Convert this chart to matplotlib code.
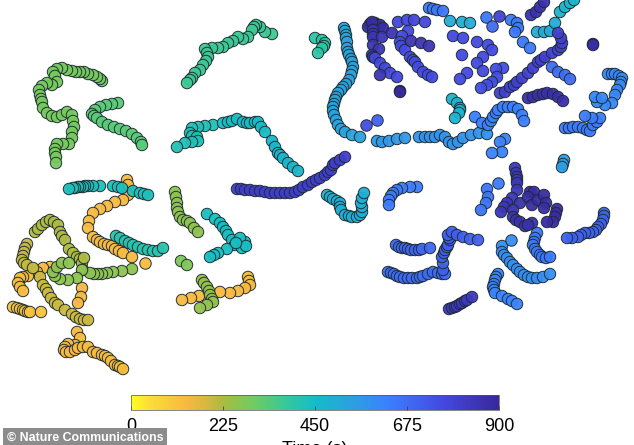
"""
Trajectories on a common plane, coloured by time, with a time colour bar.
"""

import matplotlib
matplotlib.use("Agg")
import matplotlib.pyplot as plt
from matplotlib.colors import LinearSegmentedColormap, Normalize
from matplotlib.cm import ScalarMappable

plt.rcParams["font.family"] = ["Liberation Sans", "DejaVu Sans"]

TICKS = [0, 225, 450, 675, 900]
TIME_LABEL = "Time (s)"
CREDIT = "\u00a9 Nature Communications"

CMAP_STOPS = [0.0, 0.05, 0.15, 0.2, 0.25, 0.33, 0.43, 0.5, 0.6, 0.7, 0.85, 1.0]
CMAP_COLORS = ["#ffff20", "#fcdc38", "#f8b840", "#d8b840", "#a8bc40", "#70cc60",
               "#30c8a0", "#14bcc8", "#2ca0e0", "#3a80ff", "#4448e0", "#38289a"]

# green, upper left
g1_t = 290
g1_x = [102, 100, 97, 93, 88, 84, 80, 76, 72, 67, 62, 57, 53, 55, 57, 52, 47, 42, 39, 40, 41, 42, 43, 47, 52, 57, 62, 67, 72, 73, 74, 72, 72, 69, 63, 57, 55, 55, 56, 56]
g1_y = [81, 79, 77, 75, 74, 72, 72, 72, 71, 70, 68, 69, 72, 76, 82, 85, 83, 86, 90, 95, 99, 102, 108, 113, 116, 117, 115, 112, 115, 121, 127, 132, 138, 144, 144, 144, 149, 153, 157, 163]
g2_t = 330
g2_x = [118, 112, 106, 100, 95, 92, 94, 97, 102, 108, 114, 120, 126, 132, 137, 141, 142]
g2_y = [103, 104, 105, 107, 110, 114, 116, 118, 122, 125, 127, 129, 131, 134, 138, 142, 145]
g3_t = 370
g3_x = [272, 265, 260, 256, 254, 252, 248, 243, 238, 233, 228, 223, 218, 212, 205, 207, 208, 206, 203, 200, 195, 192, 190, 187]
g3_y = [34, 32, 27, 25, 27, 30, 37, 39, 37, 41, 43, 47, 48, 48, 49, 53, 57, 61, 65, 70, 73, 78, 80, 83]
t1_t = 395
t1_x = [315, 322, 325, 324, 322, 318]
t1_y = [38, 40, 43, 46, 48, 53]
t2_t = 425
t2_x = [213, 205, 198, 192, 190, 192, 197, 198, 192, 185, 177]
t2_y = [125, 126, 127, 128, 133, 136, 137, 141, 142, 143, 147]
t3_t = 445
t3_x = [223, 228, 232, 237, 243, 247, 250, 255, 258, 261, 265]
t3_y = [123, 122, 121, 119, 122, 123, 123, 122, 122, 127, 132]
t4_t = 465
t4_x = [272, 275, 278, 280, 283, 288, 293, 298]
t4_y = [141, 147, 153, 155, 158, 163, 167, 171]

# cyan and blue, upper right
c1_t = 530
c1_x = [344, 345, 346, 346, 347, 347, 348, 349, 351, 352, 353, 352, 351, 349, 346, 343, 341, 338, 336, 335, 334, 333, 333, 334, 336, 338, 341, 345, 352, 360]
c1_y = [28, 31, 35, 38, 42, 48, 52, 55, 59, 62, 67, 71, 75, 80, 84, 87, 90, 93, 97, 100, 104, 107, 111, 115, 120, 125, 129, 132, 135, 137]
c2_t = 560
c2_x = [377, 382, 389, 397, 405]
c2_y = [141, 142, 141, 139, 138]
c3_t = 575
c3_x = [419, 425, 430, 435, 440, 445, 449, 453, 458, 463, 471, 479, 487]
c3_y = [137, 137, 137, 137, 135, 137, 142, 144, 142, 138, 135, 133, 134]
c4_t = 630
c4_x = [475, 482, 488, 491, 493, 496, 498, 503, 508, 513, 518, 522, 524]
c4_y = [117, 123, 125, 121, 117, 113, 110, 107, 107, 107, 109, 115, 121]
c5_t = 475
c5_x = [452, 457, 460, 460, 459, 455]
c5_y = [99, 103, 108, 110, 113, 118]
c6_t = 620
c6_x = [505, 500, 502, 492]
c6_y = [139, 142, 152, 153]
d1_t = 750
d1_x = [366]
d1_y = [125]
d2_t = 700
d2_x = [377]
d2_y = [120]
e1_t = 650
e1_x = [429, 433, 437, 443]
e1_y = [8, 9, 10, 11]
e2_t = 500
e2_x = [450, 462, 470]
e2_y = [21, 22, 23]
e3_t = 650
e3_x = [486]
e3_y = [17]
e4_t = 680
e4_x = [492]
e4_y = [26]
e5_t = 790
e5_x = [499]
e5_y = [16]
e6_t = 650
e6_x = [511, 517, 518, 515]
e6_y = [20, 23, 28, 32]
e7_t = 650
e7_x = [523, 530]
e7_y = [42, 48]
e8_t = 500
e8_x = [537, 544, 550, 555]
e8_y = [32, 32, 31, 23]
e9_t = 470
e9_x = [560, 565, 570, 574]
e9_y = [12, 7, 3, 0]
e10_t = 860
e10_x = [531, 536, 540, 544]
e10_y = [15, 12, 7, 2]
e11_t = 880
e11_x = [593, 593]
e11_y = [44, 45]

# dark group at the top
k1_t = 880
k1_x = [370, 375, 380, 383, 368, 372]
k1_y = [24, 23, 25, 28, 27, 22]
k2_t = 850
k2_x = [373, 373, 373, 382, 373, 379, 372, 373]
k2_y = [30, 34, 37, 37, 45, 49, 55, 57]
k3_t = 770
k3_x = [375, 380, 385, 390, 397]
k3_y = [58, 63, 68, 73, 77]
k4_t = 850
k4_x = [380, 392]
k4_y = [75, 33]
k5_t = 770
k5_x = [398, 407, 414, 425]
k5_y = [22, 20, 20, 22]
k6_t = 760
k6_x = [408, 402, 400, 401, 405, 410, 413, 415, 418, 423, 428, 432]
k6_y = [31, 36, 42, 46, 50, 57, 60, 62, 67, 72, 75, 77]
k7_t = 850
k7_x = [411, 421, 429]
k7_y = [41, 43, 46]
k8_t = 890
k8_x = [400, 400]
k8_y = [91, 92]
k9_t = 760
k9_x = [453, 463, 462, 477, 488, 492, 483, 477, 483, 467, 460]
k9_y = [36, 38, 55, 42, 45, 50, 57, 63, 71, 73, 79]
k10_t = 750
k10_x = [503, 496, 497, 492, 487, 481]
k10_y = [68, 69, 77, 82, 85, 88]
k11_t = 800
k11_x = [500, 505, 510, 514, 517, 522, 528, 533, 538, 541, 545, 552, 558, 561, 562, 561, 558]
k11_y = [93, 92, 87, 85, 82, 78, 73, 68, 62, 60, 57, 53, 50, 47, 43, 38, 33]
k12_t = 870
k12_x = [528, 533, 538, 543, 547, 553, 558, 563]
k12_y = [98, 97, 95, 94, 93, 94, 97, 101]
k13_t = 680
k13_x = [552, 558, 565, 570]
k13_y = [67, 72, 75, 79]
k14_t = 610
k14_x = [608, 612, 615, 619, 622, 621, 620, 617, 615, 612, 605, 597, 595, 602]
k14_y = [74, 74, 74, 76, 78, 82, 85, 90, 95, 103, 105, 102, 97, 98]
k15_t = 640
k15_x = [565, 569, 573, 578, 583, 587, 590, 593, 597, 600, 592, 585]
k15_y = [128, 128, 127, 127, 128, 130, 131, 125, 122, 118, 118, 116]
k16_t = 550
k16_x = [564, 563, 562]
k16_y = [160, 164, 167]

# centre and lower right
p1_t = 810
p1_x = [237, 241, 245, 250, 255, 260, 265, 270, 275, 280, 285, 290, 295, 299, 303, 308, 312, 316, 320, 325, 328, 331, 333, 335, 340, 345]
p1_y = [189, 189, 190, 190, 191, 191, 192, 193, 193, 193, 193, 193, 192, 190, 187, 185, 182, 180, 178, 175, 172, 170, 165, 163, 160, 157]
u1_t = 490
u1_x = [327, 330, 333, 337, 340, 340, 341, 345, 349, 352, 357, 360, 362, 362, 361, 362, 364]
u1_y = [195, 197, 199, 201, 203, 207, 210, 215, 216, 217, 217, 215, 212, 207, 203, 198, 193]
b1_t = 640
b1_x = [417, 410, 402, 397, 393, 391, 389, 389]
b1_y = [187, 187, 188, 190, 193, 196, 200, 205]
b2_t = 690
b2_x = [396, 399, 402, 405, 408, 411, 415, 419, 422, 430]
b2_y = [245, 247, 248, 248, 249, 250, 250, 250, 249, 248]
b3_t = 680
b3_x = [388, 391, 394, 397, 400, 404, 408, 412, 417, 420, 423, 428, 433, 438, 442, 445]
b3_y = [272, 273, 274, 276, 277, 278, 278, 278, 278, 277, 276, 274, 272, 273, 274, 274]
b4_t = 710
b4_x = [443, 443, 442, 444, 445, 447, 448, 450, 449, 448, 452, 457, 463, 470, 478]
b4_y = [270, 263, 257, 253, 250, 247, 245, 240, 238, 235, 232, 235, 237, 239, 240]
b5_t = 830
b5_x = [449, 452, 455, 457, 460, 462, 465, 467, 472]
b5_y = [309, 308, 307, 306, 304, 303, 301, 300, 297]
b6_t = 620
b6_x = [498, 496, 495, 494, 493, 494, 495, 502, 508, 512, 517]
b6_y = [274, 277, 280, 284, 287, 290, 293, 296, 299, 301, 304]
b7_t = 590
b7_x = [502, 502, 504, 507, 510, 513, 517, 520, 524, 528, 532, 537, 543, 550]
b7_y = [246, 252, 255, 258, 262, 265, 269, 272, 275, 277, 278, 278, 277, 274]
b8_t = 590
b8_x = [511]
b8_y = [240]
b9_t = 650
b9_x = [537, 535, 534, 533, 535, 537, 540, 542, 546, 550]
b9_y = [233, 238, 242, 245, 249, 252, 255, 257, 258, 257]
b10_t = 660
b10_x = [487, 488, 486, 481]
b10_y = [189, 197, 203, 210]
b11_t = 640
b11_x = [498]
b11_y = [183]
r1_t = 700
r1_x = [604, 604, 603, 601, 598, 596, 593, 589, 585, 581, 578, 572, 567]
r1_y = [213, 216, 220, 224, 227, 230, 232, 233, 233, 235, 237, 238, 238]
m1_t = 840
m1_x = [515, 516, 517, 517, 517, 517]
m1_y = [168, 173, 177, 180, 183, 190]
m2_t = 840
m2_x = [512, 507, 504, 501]
m2_y = [198, 203, 207, 212]
m3_t = 860
m3_x = [520, 513, 513, 516, 520, 525, 532, 528]
m3_y = [203, 210, 217, 220, 222, 226, 223, 225]
m4_t = 880
m4_x = [530, 534, 528, 532, 538, 544, 546, 544]
m4_y = [192, 192, 197, 205, 200, 195, 203, 208]
m5_t = 880
m5_x = [557, 556, 555, 553, 547]
m5_y = [209, 213, 217, 222, 222]

# teal, olive and orange, lower left
o1_t = 430
o1_x = [100, 93, 88, 85, 83, 80, 78, 75, 73, 69]
o1_y = [186, 186, 186, 186, 187, 187, 187, 188, 188, 189]
o2_t = 130
o2_x = [127, 128, 128, 123, 115, 107, 100, 93, 89, 88, 93, 97, 100, 104, 108, 112, 115, 119, 123, 132]
o2_y = [180, 185, 195, 200, 202, 206, 209, 213, 221, 228, 237, 240, 242, 244, 245, 246, 249, 251, 253, 257]
o3_t = 430
o3_x = [113, 118, 122, 133, 140, 144, 148]
o3_y = [186, 187, 188, 191, 193, 194, 195]
o4_t = 130
o4_x = [145]
o4_y = [263]
o5_t = 410
o5_x = [116, 120, 125, 129, 133, 138, 143, 148, 153, 158, 163]
o5_y = [236, 238, 241, 243, 245, 247, 249, 250, 251, 251, 248]
o6_t = 260
o6_x = [175, 176, 177, 177, 178, 180, 183, 187, 190, 194, 198]
o6_y = [192, 197, 203, 208, 212, 217, 220, 221, 223, 228, 232]
o7_t = 280
o7_x = [181, 187]
o7_y = [261, 265]
o8_t = 440
o8_x = [207, 215, 220, 223, 226, 228, 232, 235, 227, 218, 214, 210, 245, 242, 240, 246, 236]
o8_y = [214, 219, 223, 227, 231, 235, 240, 245, 249, 253, 255, 257, 242, 248, 238, 246, 243]
o9_t = 130
o9_x = [248, 249, 250, 245, 238, 230, 220, 199, 191, 182]
o9_y = [277, 281, 285, 288, 291, 293, 292, 296, 298, 300]
o10_t = 250
o10_x = [202, 204, 207, 209, 210, 212, 213, 207, 200]
o10_y = [280, 283, 287, 291, 295, 299, 302, 305, 308]
y1_t = 220
y1_x = [35, 38, 42, 46, 50, 54, 58, 60, 62, 65, 69, 73, 77, 80, 82, 84, 83]
y1_y = [232, 229, 225, 222, 220, 222, 225, 232, 236, 240, 249, 253, 257, 259, 263, 258, 270]
y4_t = 130
y4_x = [50, 43, 37, 28, 23, 20, 18, 20, 23]
y4_y = [267, 268, 272, 276, 277, 278, 283, 287, 291]
y6_t = 140
y6_x = [82, 81, 78]
y6_y = [288, 297, 303]
y2_t = 260
y2_x = [132, 122, 113, 107, 102, 98, 94, 90, 82, 77, 68, 60, 55, 53, 57, 62, 69]
y2_y = [269, 271, 272, 273, 274, 274, 274, 273, 270, 278, 280, 279, 276, 272, 267, 263, 263]
y3_t = 200
y3_x = [27, 25, 24, 23, 22, 24, 27, 33]
y3_y = [244, 248, 252, 256, 260, 263, 265, 268]
y5_t = 190
y5_x = [40, 43, 46, 48, 51, 55, 58, 65, 72, 76, 80, 84, 88]
y5_y = [277, 285, 289, 293, 298, 303, 305, 310, 314, 317, 319, 320, 320]
y7_t = 110
y7_x = [13, 17, 20, 23, 25, 28, 30, 41]
y7_y = [307, 308, 309, 310, 311, 312, 312, 312]
y8_t = 130
y8_x = [77, 80, 75, 68, 65, 64, 66, 70, 75, 78, 83, 88, 93, 97, 102, 105, 108, 111, 115, 118, 120, 123]
y8_y = [332, 338, 345, 344, 347, 350, 352, 352, 350, 348, 347, 347, 352, 353, 355, 356, 358, 361, 365, 366, 367, 369]

TIMES = [g1_t, g2_t, g3_t, t1_t, t2_t, t3_t, t4_t, c1_t, c2_t, c3_t, c4_t, c5_t, c6_t,
         d1_t, d2_t, e1_t, e2_t, e3_t, e4_t, e5_t, e6_t, e7_t, e8_t, e9_t, e10_t, e11_t,
         k1_t, k2_t, k3_t, k4_t, k5_t, k6_t, k7_t, k8_t, k9_t, k10_t, k11_t, k12_t, k13_t,
         k14_t, k15_t, k16_t, p1_t, u1_t, b1_t, b2_t, b3_t, b4_t, b5_t, b6_t, b7_t, b8_t,
         b9_t, b10_t, b11_t, r1_t, m1_t, m2_t, m3_t, m4_t, m5_t, o1_t, o2_t, o3_t, o4_t,
         o5_t, o6_t, o7_t, o8_t, o9_t, o10_t, y1_t, y4_t, y6_t, y2_t, y3_t, y5_t, y7_t, y8_t]
XS = [g1_x, g2_x, g3_x, t1_x, t2_x, t3_x, t4_x, c1_x, c2_x, c3_x, c4_x, c5_x, c6_x,
      d1_x, d2_x, e1_x, e2_x, e3_x, e4_x, e5_x, e6_x, e7_x, e8_x, e9_x, e10_x, e11_x,
      k1_x, k2_x, k3_x, k4_x, k5_x, k6_x, k7_x, k8_x, k9_x, k10_x, k11_x, k12_x, k13_x,
      k14_x, k15_x, k16_x, p1_x, u1_x, b1_x, b2_x, b3_x, b4_x, b5_x, b6_x, b7_x, b8_x,
      b9_x, b10_x, b11_x, r1_x, m1_x, m2_x, m3_x, m4_x, m5_x, o1_x, o2_x, o3_x, o4_x,
      o5_x, o6_x, o7_x, o8_x, o9_x, o10_x, y1_x, y4_x, y6_x, y2_x, y3_x, y5_x, y7_x, y8_x]
YS = [g1_y, g2_y, g3_y, t1_y, t2_y, t3_y, t4_y, c1_y, c2_y, c3_y, c4_y, c5_y, c6_y,
      d1_y, d2_y, e1_y, e2_y, e3_y, e4_y, e5_y, e6_y, e7_y, e8_y, e9_y, e10_y, e11_y,
      k1_y, k2_y, k3_y, k4_y, k5_y, k6_y, k7_y, k8_y, k9_y, k10_y, k11_y, k12_y, k13_y,
      k14_y, k15_y, k16_y, p1_y, u1_y, b1_y, b2_y, b3_y, b4_y, b5_y, b6_y, b7_y, b8_y,
      b9_y, b10_y, b11_y, r1_y, m1_y, m2_y, m3_y, m4_y, m5_y, o1_y, o2_y, o3_y, o4_y,
      o5_y, o6_y, o7_y, o8_y, o9_y, o10_y, y1_y, y4_y, y6_y, y2_y, y3_y, y5_y, y7_y, y8_y]

W, H = 634, 445
cmap = LinearSegmentedColormap.from_list("time", list(zip(CMAP_STOPS, CMAP_COLORS)))
norm = Normalize(vmin=TICKS[0], vmax=TICKS[-1])

fig = plt.figure(figsize=(W/100, H/100), dpi=100)
ax = fig.add_axes([0, 0, 1, 1])
ax.set_xlim(0, W)
ax.set_ylim(H, 0)
ax.axis("off")

for x, y, t in zip(XS, YS, TIMES):
    ax.scatter(x, y, c=[t]*len(x), cmap=cmap, norm=norm, s=68, alpha=0.95,
               edgecolors="#1c2a30", linewidths=0.7, clip_on=False)

# Colour bar
cax = fig.add_axes([131/W, 1-410/H, 368/W, 15/H])
cbar = fig.colorbar(ScalarMappable(norm=norm, cmap=cmap), cax=cax, orientation="horizontal")
cbar.set_ticks(TICKS)
cbar.ax.tick_params(direction="in", length=3, width=0.5, labelsize=13, pad=6, color="#333333")
cbar.outline.set_linewidth(0.5)
cbar.outline.set_edgecolor("#555555")
fig.text(315/W, 1-441/H, TIME_LABEL, ha="center", va="top", fontsize=13)

# Credit strip across the bottom left corner
fig.text(7/W, 1-438/H, CREDIT, ha="left", va="center", fontsize=8.9, fontweight="bold",
         color="white",
         bbox=dict(boxstyle="square,pad=0.3", facecolor="#8c8c8c", edgecolor="none"))

fig.savefig("out.png", dpi=100)
